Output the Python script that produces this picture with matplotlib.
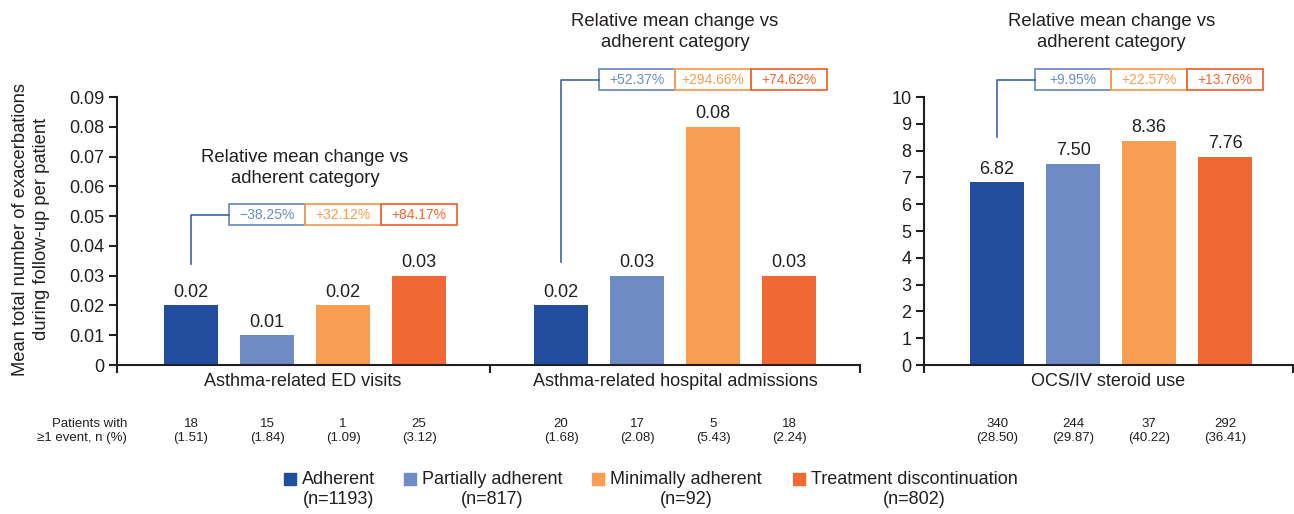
import matplotlib
matplotlib.use("Agg")
import matplotlib.pyplot as plt
from matplotlib.patches import Rectangle
from matplotlib.transforms import blended_transform_factory

plt.rcParams['font.family'] = ['Liberation Sans', 'DejaVu Sans']

# ---------------- data ----------------
groups = ["Adherent", "Partially adherent", "Minimally adherent", "Treatment discontinuation"]
group_n = ["(n=1193)", "(n=817)", "(n=92)", "(n=802)"]
colors = ["#234ea0", "#6f8bc6", "#f79e52", "#f06834"]

ed_visits = [0.02, 0.01, 0.02, 0.03]
hosp_adm = [0.02, 0.03, 0.08, 0.03]
ocs_use = [6.82, 7.50, 8.36, 7.76]

ed_labels = ["0.02", "0.01", "0.02", "0.03"]
hosp_labels = ["0.02", "0.03", "0.08", "0.03"]
ocs_labels = ["6.82", "7.50", "8.36", "7.76"]

ed_change = ["\u221238.25%", "+32.12%", "+84.17%"]
hosp_change = ["+52.37%", "+294.66%", "+74.62%"]
ocs_change = ["+9.95%", "+22.57%", "+13.76%"]

ed_pat = ["18\n(1.51)", "15\n(1.84)", "1\n(1.09)", "25\n(3.12)"]
hosp_pat = ["20\n(1.68)", "17\n(2.08)", "5\n(5.43)", "18\n(2.24)"]
ocs_pat = ["340\n(28.50)", "244\n(29.87)", "37\n(40.22)", "292\n(36.41)"]

cat_ed = "Asthma-related ED visits"
cat_hosp = "Asthma-related hospital admissions"
cat_ocs = "OCS/IV steroid use"

left_yticks = [0, 0.01, 0.02, 0.03, 0.04, 0.05, 0.06, 0.07, 0.08, 0.09]
left_yticklabels = ["0", "0.01", "0.02", "0.03", "0.04", "0.05", "0.06", "0.07", "0.08", "0.09"]
right_yticks = list(range(0, 11))

ylabel = "Mean total number of exacerbations\nduring follow-up per patient"
change_title = "Relative mean change vs\nadherent category"

# ---------------- style ----------------
TXT = "#231f20"
W, H = 1294, 514
fig = plt.figure(figsize=(W / 100, H / 100), dpi=100)

def fx(px):
    return px / W

def fy(py):
    return 1 - py / H

bw = 0.71
off2 = 4.868  # offset of second group in left axes

axL = fig.add_axes([fx(117), fy(365), fx(860 - 117), fy(97) - fy(365)])
axR = fig.add_axes([fx(924), fy(365), fx(1293 - 924), fy(97) - fy(365)])

for ax in (axL, axR):
    for s in ("top", "right"):
        ax.spines[s].set_visible(False)
    for s in ("left", "bottom"):
        ax.spines[s].set_linewidth(1.5)
        ax.spines[s].set_color(TXT)
    ax.tick_params(axis="y", direction="out", length=6, width=1.5, colors=TXT,
                   labelsize=13, pad=3)
    ax.tick_params(axis="x", direction="out", length=6, width=1.5, colors=TXT,
                   labelbottom=False)

# left axes
axL.set_xlim(-0.974, 8.80)
axL.set_ylim(0, 0.09)
axL.set_yticks(left_yticks)
axL.set_yticklabels(left_yticklabels)
axL.set_xticks([-0.974, 3.934, 8.80])

x1 = [0, 1, 2, 3]
x2 = [off2 + i for i in range(4)]
axL.bar(x1, ed_visits, width=bw, color=colors)
axL.bar(x2, hosp_adm, width=bw, color=colors)
for x, v, l in zip(x1, ed_visits, ed_labels):
    axL.text(x, v + 0.0015, l, ha="center", va="bottom", fontsize=13, color=TXT)
for x, v, l in zip(x2, hosp_adm, hosp_labels):
    axL.text(x, v + 0.0015, l, ha="center", va="bottom", fontsize=13, color=TXT)

# right axes
axR.set_xlim(-0.96, 3.89)
axR.set_ylim(0, 10)
axR.set_yticks(right_yticks)
axR.set_xticks([-0.96, 3.89])
x3 = [0, 1, 2, 3]
axR.bar(x3, ocs_use, width=bw, color=colors)
for x, v, l in zip(x3, ocs_use, ocs_labels):
    axR.text(x, v + 0.17, l, ha="center", va="bottom", fontsize=13, color=TXT)

# y label
fig.text(fx(31), fy(229), ylabel, rotation=90, ha="center", va="center",
         fontsize=13.2, color=TXT, linespacing=1.3)

# category labels
fig.text(fx(303), fy(382), cat_ed, ha="center", va="center", fontsize=13, color=TXT)
fig.text(fx(675), fy(382), cat_hosp, ha="center", va="center", fontsize=13, color=TXT)
fig.text(fx(1108), fy(382), cat_ocs, ha="center", va="center", fontsize=13, color=TXT)

# change annotations
box_cols = colors[1:]
def change_block(ax, xbase, changes, y0, y1, ydrop, title_px_y):
    ym = (y0 + y1) / 2
    ax.plot([xbase + 0.5, xbase, xbase], [ym, ym, ydrop], color="#3f5fae",
            lw=1.2, clip_on=False)
    for i, (c, col) in enumerate(zip(changes, box_cols)):
        xl = xbase + 0.5 + i
        ax.add_patch(Rectangle((xl, y0), 1, y1 - y0, fill=False, edgecolor=col,
                               lw=1.3, clip_on=False))
        ax.text(xl + 0.5, ym, c, ha="center", va="center", fontsize=10,
                color=col, clip_on=False)
    tr = blended_transform_factory(ax.transData, fig.transFigure)
    ax.text(xbase + 1.5, fy(title_px_y), change_title, transform=tr, ha="center",
            va="center", fontsize=13.3, color=TXT, linespacing=1.3)

change_block(axL, 0, ed_change, 0.047, 0.054, 0.0339, 168)
change_block(axL, off2, hosp_change, 0.0923, 0.0993, 0.0346, 32)
change_block(axR, 0, ocs_change, 10.26, 11.04, 8.5, 32)

# patients row
fig.text(fx(127), fy(431), "Patients with\n\u22651 event, n (%)", ha="right",
         va="center", fontsize=9.5, color=TXT, linespacing=1.3)
trL = blended_transform_factory(axL.transData, fig.transFigure)
trR = blended_transform_factory(axR.transData, fig.transFigure)
for x, t in zip(x1, ed_pat):
    axL.text(x, fy(431), t, transform=trL, ha="center", va="center", fontsize=9.5,
             color=TXT, linespacing=1.3)
for x, t in zip(x2, hosp_pat):
    axL.text(x, fy(431), t, transform=trL, ha="center", va="center", fontsize=9.5,
             color=TXT, linespacing=1.3)
for x, t in zip(x3, ocs_pat):
    axR.text(x, fy(431), t, transform=trR, ha="center", va="center", fontsize=9.5,
             color=TXT, linespacing=1.3)

# legend (manual)
sq_x = [284, 404, 592, 793]
leg_items = []
for sx, g, n, c in zip(sq_x, groups, group_n, colors):
    fig.patches.append(Rectangle((fx(sx), fy(485)), fx(12), fy(473) - fy(485),
                                 transform=fig.transFigure, color=c))
    t = fig.text(fx(sx + 18), fy(479), g, ha="left", va="center", fontsize=13, color=TXT)
    leg_items.append((t, n))

fig.canvas.draw()
rend = fig.canvas.get_renderer()
for t, n in leg_items:
    bb = t.get_window_extent(rend)
    cx = (bb.x0 + bb.x1) / 2 / fig.bbox.width
    fig.text(cx, fy(500), n, ha="center", va="center", fontsize=13, color=TXT)

fig.savefig("out.png", dpi=100)
